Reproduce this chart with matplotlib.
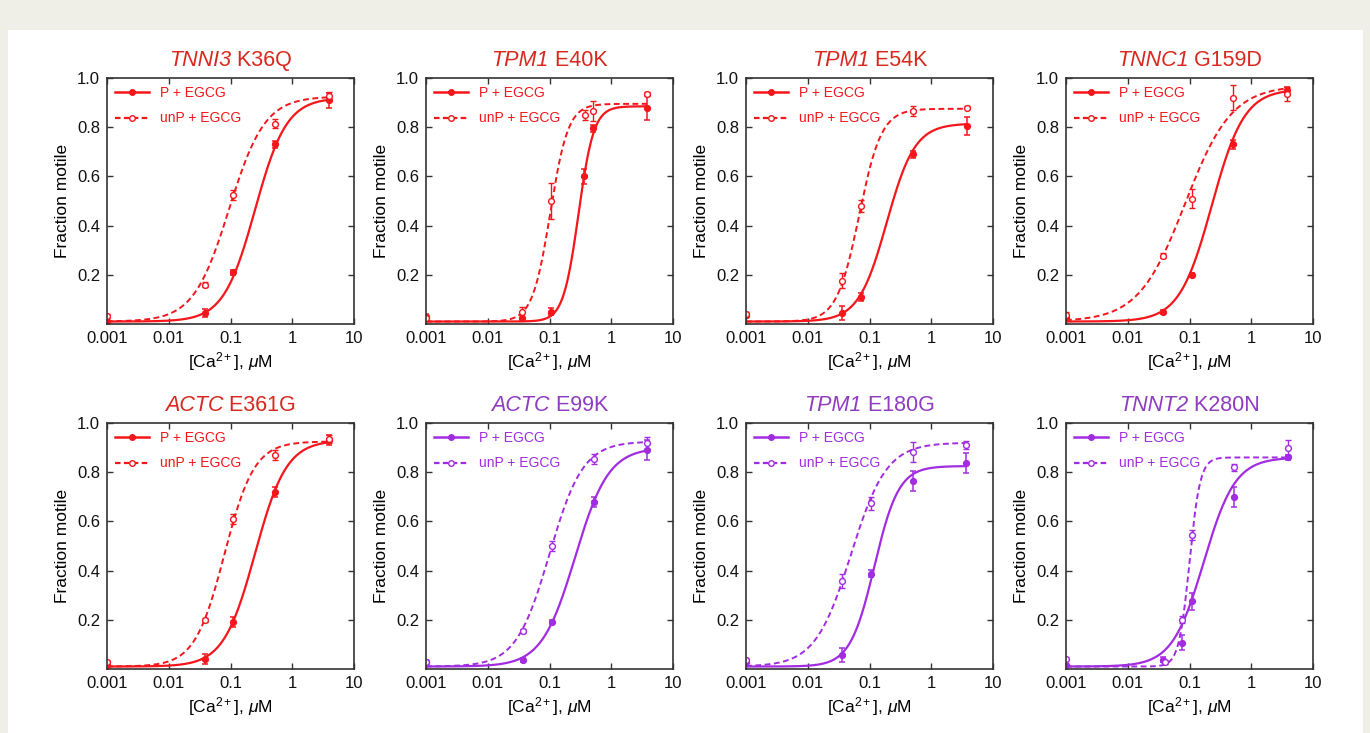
import numpy as np
import matplotlib
matplotlib.use('Agg')
import matplotlib.pyplot as plt
from matplotlib.lines import Line2D
from matplotlib.patches import Rectangle
from matplotlib.offsetbox import TextArea, HPacker, AnchoredOffsetbox

plt.rcParams['font.family'] = ['Liberation Sans', 'DejaVu Sans']
plt.rcParams['mathtext.fontset'] = 'custom'
plt.rcParams['mathtext.rm'] = 'Liberation Sans'
plt.rcParams['mathtext.it'] = 'Liberation Sans:italic'

# panel titles (gene in italics + mutation) and colour group
genes = ['TNNI3', 'TPM1', 'TPM1', 'TNNC1', 'ACTC', 'ACTC', 'TPM1', 'TNNT2']
mutations = ['K36Q', 'E40K', 'E54K', 'G159D', 'E361G', 'E99K', 'E180G', 'K280N']
group = ['red', 'red', 'red', 'red', 'red', 'purple', 'purple', 'purple']

# P + EGCG data
p_conc = [[0.001, 0.038, 0.11, 0.52, 4.0],
          [0.001, 0.036, 0.107, 0.36, 0.50, 3.8],
          [0.001, 0.036, 0.073, 0.50, 3.8],
          [0.001, 0.037, 0.108, 0.50, 3.8],
          [0.001, 0.038, 0.11, 0.52, 4.0],
          [0.001, 0.037, 0.11, 0.53, 3.8],
          [0.001, 0.036, 0.107, 0.50, 3.6],
          [0.001, 0.037, 0.076, 0.11, 0.53, 3.95]]
p_frac = [[0.012, 0.045, 0.21, 0.73, 0.91],
          [0.03, 0.025, 0.05, 0.60, 0.795, 0.88],
          [0.035, 0.045, 0.11, 0.69, 0.805],
          [0.025, 0.049, 0.20, 0.73, 0.95],
          [0.016, 0.041, 0.19, 0.72, 0.93],
          [0.03, 0.037, 0.19, 0.68, 0.89],
          [0.027, 0.057, 0.388, 0.763, 0.838],
          [0.016, 0.037, 0.107, 0.275, 0.70, 0.86]]
p_err = [[0.008, 0.015, 0.01, 0.015, 0.03],
         [0.01, 0.01, 0.015, 0.03, 0.015, 0.05],
         [0.01, 0.03, 0.015, 0.015, 0.035],
         [0.01, 0.008, 0.008, 0.02, 0.015],
         [0.008, 0.02, 0.02, 0.02, 0.02],
         [0.008, 0.008, 0.008, 0.02, 0.04],
         [0.008, 0.03, 0.015, 0.04, 0.04],
         [0.005, 0.01, 0.03, 0.035, 0.04, 0.01]]

# unP + EGCG data
u_conc = [[0.001, 0.038, 0.11, 0.52, 4.0],
          [0.001, 0.036, 0.107, 0.37, 0.50, 3.8],
          [0.001, 0.036, 0.073, 0.50, 3.8],
          [0.001, 0.037, 0.108, 0.50, 3.8],
          [0.001, 0.038, 0.11, 0.52, 4.0],
          [0.001, 0.037, 0.11, 0.53, 3.8],
          [0.001, 0.036, 0.107, 0.50, 3.6],
          [0.001, 0.04, 0.076, 0.11, 0.53, 3.95]]
u_frac = [[0.033, 0.16, 0.525, 0.815, 0.925],
          [0.025, 0.05, 0.50, 0.85, 0.865, 0.935],
          [0.04, 0.176, 0.48, 0.865, 0.88],
          [0.038, 0.278, 0.51, 0.92, 0.935],
          [0.027, 0.20, 0.61, 0.87, 0.935],
          [0.03, 0.155, 0.50, 0.853, 0.92],
          [0.038, 0.358, 0.673, 0.882, 0.91],
          [0.04, 0.027, 0.20, 0.546, 0.82, 0.90]]
u_err = [[0.008, 0.01, 0.02, 0.02, 0.02],
         [0.01, 0.02, 0.075, 0.02, 0.04, 0.01],
         [0.01, 0.03, 0.025, 0.02, 0.005],
         [0.01, 0.01, 0.04, 0.05, 0.03],
         [0.01, 0.008, 0.02, 0.02, 0.015],
         [0.008, 0.008, 0.02, 0.02, 0.025],
         [0.008, 0.03, 0.025, 0.04, 0.015],
         [0.005, 0.008, 0.015, 0.02, 0.015, 0.03]]

# Hill fit parameters
fit_bottom = 0.01
p_top = [0.92, 0.885, 0.815, 0.955, 0.93, 0.90, 0.825, 0.86]
p_ec50 = [0.25, 0.295, 0.19, 0.23, 0.25, 0.26, 0.12, 0.17]
p_hill = [1.7, 3.5, 1.9, 1.65, 1.7, 1.6, 2.2, 1.7]
u_top = [0.925, 0.895, 0.875, 0.97, 0.925, 0.925, 0.92, 0.86]
u_ec50 = [0.095, 0.103, 0.068, 0.085, 0.08, 0.10, 0.05, 0.10]
u_hill = [1.5, 3.0, 2.4, 1.15, 1.8, 1.6, 1.5, 5.0]

line_col = {'red': '#f4161b', 'purple': '#a22ce0'}
title_col = {'red': '#d8281e', 'purple': '#8f3cc0'}


def hill(x, top, ec50, n):
    return fit_bottom + (top - fit_bottom) * x**n / (ec50**n + x**n)


fig = plt.figure(figsize=(13.7, 7.33), dpi=100)
fig.patch.set_facecolor('#efefe7')
fig.add_artist(Rectangle((8/1370, 0), 1355/1370, 703/733, transform=fig.transFigure,
                         facecolor='white', edgecolor='none', zorder=-10))

lefts = [107, 426, 746, 1066]
tops = [78, 423]
W, H = 247, 246

for i in range(8):
    r, c = divmod(i, 4)
    ax = fig.add_axes([lefts[c]/1370, 1 - (tops[r] + H)/733, W/1370, H/733])
    col = line_col[group[i]]
    tcol = title_col[group[i]]

    xs = np.logspace(-3, np.log10(max(p_conc[i])), 300)
    ax.plot(xs, hill(xs, p_top[i], p_ec50[i], p_hill[i]), color=col, lw=1.6)
    xs = np.logspace(-3, np.log10(max(u_conc[i])), 300)
    ax.plot(xs, hill(xs, u_top[i], u_ec50[i], u_hill[i]), color=col, lw=1.4, ls=(0, (3, 1.8)))

    ax.errorbar(p_conc[i], p_frac[i], yerr=p_err[i], fmt='o', ms=4.2, color=col,
                mfc=col, mec=col, elinewidth=1.1, capsize=2.2, capthick=1.1)
    ax.errorbar(u_conc[i], u_frac[i], yerr=u_err[i], fmt='o', ms=4.2, color=col,
                mfc='white', mec=col, mew=1.0, elinewidth=1.0, capsize=2.2, capthick=1.0)

    ax.set_xscale('log')
    ax.set_xlim(0.001, 10)
    ax.set_ylim(0, 1.0)
    ax.set_xticks([0.001, 0.01, 0.1, 1, 10])
    ax.set_xticklabels(['0.001', '0.01', '0.1', '1', '10'])
    ax.xaxis.set_minor_locator(matplotlib.ticker.NullLocator())
    ax.set_yticks([0.2, 0.4, 0.6, 0.8, 1.0])
    ax.set_yticklabels(['0.2', '0.4', '0.6', '0.8', '1.0'])
    ax.tick_params(direction='in', top=True, right=True, length=4, width=1,
                   labelsize=12, colors='#333333', labelcolor='#111111', pad=5)
    for s in ax.spines.values():
        s.set_color('#333333')
        s.set_linewidth(1.2)

    ax.set_ylabel('Fraction motile', fontsize=12.5, labelpad=5)
    ax.set_xlabel(r'[Ca$^{2+}$], $\mu$M', fontsize=12.5, labelpad=3)

    # title: italic gene name followed by upright mutation
    parts = [TextArea(genes[i], textprops=dict(color=tcol, fontsize=15.5, style='italic')),
             TextArea(' ' + mutations[i], textprops=dict(color=tcol, fontsize=15.5))]
    box = HPacker(children=parts, align='baseline', pad=0, sep=0)
    ttl = AnchoredOffsetbox(loc='lower center', child=box, frameon=False, pad=0, borderpad=0,
                            bbox_to_anchor=(0.5, 1.03), bbox_transform=ax.transAxes)
    ax.add_artist(ttl)

    handles = [Line2D([], [], color=col, lw=1.8, marker='o', ms=4, mfc=col),
               Line2D([], [], color=col, lw=1.6, ls=(0, (2.5, 1.5)), marker='o', ms=4, mfc='white')]
    ax.legend(handles, ['P + EGCG', 'unP + EGCG'], loc='upper left', frameon=False,
              fontsize=10, labelcolor=col, handlelength=2.4, handletextpad=0.8,
              borderaxespad=0.3, labelspacing=0.8, borderpad=0.3)

fig.savefig('out.png', dpi=100, facecolor=fig.get_facecolor())
